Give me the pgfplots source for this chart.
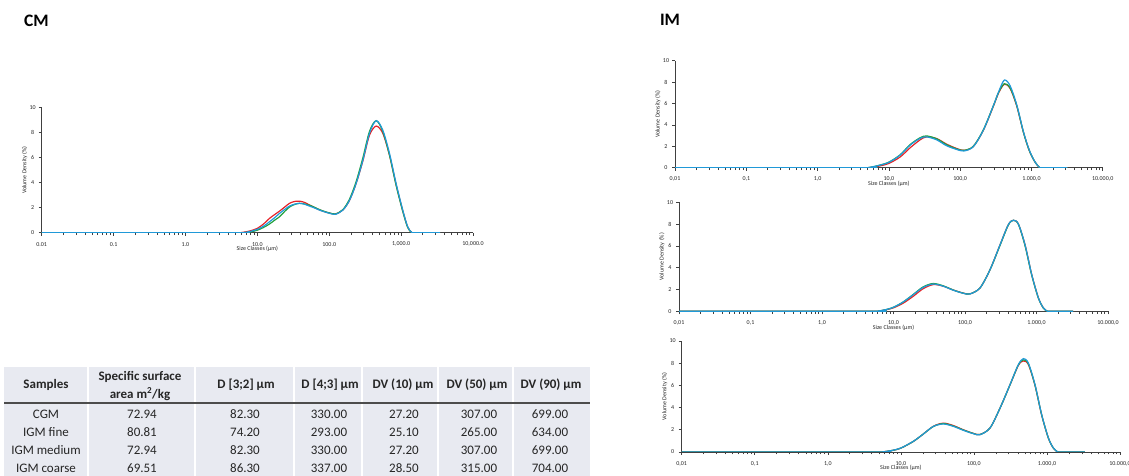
\documentclass[border=0pt]{standalone}
\usepackage{fontspec}
\setmainfont{Carlito}
\usepackage{pgfplots}
\usepackage{pgfplotstable}
\pgfplotsset{compat=1.18}

\definecolor{cred}{HTML}{E52329}
\definecolor{cgreen}{HTML}{22A03C}
\definecolor{cblue}{HTML}{2099D8}
\definecolor{tabfill}{HTML}{E8EAF1}
\definecolor{axgray}{HTML}{404040}

% particle size distributions: size (um), red, green, blue
\pgfplotstableread{
x r g b
0.01 0 0 0
5.0 0 0 0
6.3 0.03 0 0
8 0.15 0.06 0.1
10 0.35 0.2 0.27
12.2 0.7 0.42 0.52
14.8 1.15 0.7 0.88
17.4 1.45 1.0 1.2
20.4 1.73 1.28 1.55
24 2.05 1.7 1.86
28 2.35 2.05 2.13
33 2.5 2.26 2.28
38.7 2.52 2.35 2.35
45 2.43 2.3 2.28
53 2.22 2.2 2.13
63 2.0 2.02 1.97
73 1.83 1.85 1.81
86 1.68 1.7 1.67
101 1.57 1.58 1.55
122 1.5 1.5 1.47
155 1.82 1.85 1.81
192 2.6 2.7 2.6
237 3.95 4.1 3.95
294 5.75 6.0 5.8
363 7.8 8.1 7.95
450 8.53 8.96 8.96
556 7.95 8.1 8.2
689 6.2 6.2 6.35
851 3.85 3.8 3.95
1054 1.75 1.7 1.81
1234 0.45 0.42 0.48
1400 0.02 0.02 0.03
1550 0 0 0
3500 0 0 0
}\cmdata

\pgfplotstableread{
x r g b
0.01 0 0 0
4.5 0 0 0
5.4 0.02 0.03 0.03
7.3 0.15 0.22 0.22
10 0.4 0.52 0.5
14.4 1.0 1.2 1.18
19.8 1.85 2.15 2.1
27.4 2.6 2.8 2.74
33.9 2.88 2.97 2.88
46.9 2.72 2.7 2.6
64.6 2.2 2.15 2.05
89 1.8 1.76 1.71
113 1.62 1.62 1.56
153 1.98 2.0 1.96
212 3.5 3.55 3.52
295 5.8 5.85 5.86
347 7.0 7.05 7.1
417 7.8 7.85 8.19
503 7.4 7.45 7.65
623 5.75 5.8 5.86
773 3.3 3.3 3.36
933 1.6 1.6 1.65
1118 0.55 0.55 0.56
1300 0.02 0.02 0.02
1450 0 0 0
3200 0 0 0
}\imadata

\pgfplotstableread{
x r g b
0.01 0 0 0
5.2 0 0 0
6.2 0.02 0.02 0.03
8 0.15 0.17 0.17
10 0.32 0.37 0.37
13.7 0.75 0.86 0.86
18.9 1.38 1.55 1.53
26.1 2.08 2.25 2.2
36 2.45 2.55 2.5
49.8 2.3 2.33 2.3
68.7 1.95 1.95 1.93
94.8 1.67 1.66 1.65
117.5 1.6 1.6 1.59
162 2.14 2.14 2.14
224 3.82 3.82 3.82
309 6.1 6.05 6.1
404 7.95 7.92 7.95
475 8.35 8.35 8.35
558 8.0 7.98 8.01
691 6.1 6.02 6.1
858 3.36 3.3 3.36
1064 1.22 1.2 1.22
1250 0.3 0.28 0.3
1420 0.01 0.01 0.01
1550 0 0 0
3240 0 0 0
}\imbdata

\pgfplotstableread{
x r g b
0.01 0 0 0
4.8 0 0 0
5.8 0.02 0.02 0.02
7.8 0.15 0.15 0.16
10 0.35 0.35 0.36
14.8 0.95 0.95 0.96
20.3 1.62 1.62 1.62
27.9 2.32 2.3 2.31
38.2 2.6 2.56 2.52
52.4 2.38 2.34 2.31
71.8 2.0 1.98 1.95
98.3 1.68 1.67 1.65
121 1.58 1.57 1.56
166 2.16 2.16 2.16
228 3.96 3.96 3.96
312 6.05 6.05 6.07
406 7.8 7.85 7.87
475 8.2 8.3 8.41
556 7.88 7.95 8.02
686 6.0 6.02 6.07
847 3.32 3.34 3.36
1047 1.24 1.25 1.26
1225 0.35 0.35 0.36
1400 0.01 0.01 0.01
1550 0 0 0
3300 0 0 0
}\imcdata

\pgfplotsset{
  every axis/.append style={
    scale only axis,
    xmin=0.01, xmax=10000, ymin=0, ymax=10,
    axis lines=left, axis line style={-, axgray, line width=0.6pt},
    xtick={0.01,0.1,1,10,100,1000,10000},
    minor xtick={0.02,0.03,0.04,0.05,0.06,0.07,0.08,0.09,
      0.2,0.3,0.4,0.5,0.6,0.7,0.8,0.9,2,3,4,5,6,7,8,9,
      20,30,40,50,60,70,80,90,200,300,400,500,600,700,800,900,
      2000,3000,4000,5000,6000,7000,8000,9000},
    ytick={0,2,4,6,8,10}, yticklabels={0,2,4,6,8,10},
    tick align=outside, major tick length=3pt, minor tick length=2.5pt,
    tick style={axgray, line width=0.6pt},
    tick label style={font=\fontsize{6}{7}\selectfont, text=black!85},
    xticklabel style={anchor=center, yshift=-8.5pt},
    yticklabel style={anchor=center, xshift=-6pt},
    label style={font=\fontsize{6}{7}\selectfont, text=black!85},
    xlabel={Size Classes (µm)}, ylabel={Volume Density (\%)},
    xlabel style={at={(axis description cs:0.5,0)}, anchor=center, yshift=-16pt},
    ylabel style={at={(axis description cs:0,0.5)}, anchor=center, yshift=17pt},
    cycle list={{cred, line width=1.2pt},{cgreen, line width=1.2pt},{cblue, line width=1.2pt}},
  },
}

\begin{document}
\begin{tikzpicture}
\useasboundingbox (0pt,0pt) rectangle (1129pt,476pt);

% titles
\node[font=\fontsize{17.5}{19}\selectfont\bfseries] at (36.5pt,455.5pt) {CM};
\node[font=\fontsize{17.5}{19}\selectfont\bfseries] at (670pt,456pt) {IM};

% CM panel
\begin{axis}[xmode=log, anchor=south west, at={(41.7pt,243.3pt)}, width=431.3pt, height=125pt,
  xticklabels={0.01,0.1,1.0,10.0,100.0,{1,000.0},{10,000.0}}]
\addplot+[smooth, no markers] table[x=x, y=r] {\cmdata};
\addplot+[smooth, no markers] table[x=x, y=g] {\cmdata};
\addplot+[smooth, no markers] table[x=x, y=b] {\cmdata};
\end{axis}

% IM panels
\begin{axis}[xmode=log, anchor=south west, at={(675pt,308.3pt)}, width=427.7pt, height=107pt,
  xticklabels={{0,01},{0,1},{1,0},{10,0},{100,0},{1.000,0},{10.000,0}}]
\addplot+[smooth, no markers] table[x=x, y=r] {\imadata};
\addplot+[smooth, no markers] table[x=x, y=g] {\imadata};
\addplot+[smooth, no markers] table[x=x, y=b] {\imadata};
\end{axis}

\begin{axis}[xmode=log, anchor=south west, at={(679pt,164.7pt)}, width=429pt, height=109pt,
  xticklabels={{0,01},{0,1},{1,0},{10,0},{100,0},{1.000,0},{10.000,0}}]
\addplot+[smooth, no markers] table[x=x, y=r] {\imbdata};
\addplot+[smooth, no markers] table[x=x, y=g] {\imbdata};
\addplot+[smooth, no markers] table[x=x, y=b] {\imbdata};
\end{axis}

\begin{axis}[xmode=log, anchor=south west, at={(681.7pt,24pt)}, width=438.3pt, height=111pt,
  xticklabels={{0,01},{0,1},{1,0},{10,0},{100,0},{1.000,0},{10.000,0}}]
\addplot+[smooth, no markers] table[x=x, y=r] {\imcdata};
\addplot+[smooth, no markers] table[x=x, y=g] {\imcdata};
\addplot+[smooth, no markers] table[x=x, y=b] {\imcdata};
\end{axis}

% table
\begin{scope}[x=1pt, y=1pt]
\fill[tabfill] (4,0) rectangle (590,109);
\foreach \xs in {88,195,294,362,438,513}
  \draw[white, line width=1.5pt] (\xs,0) -- (\xs,109);
\draw[black!70, line width=1.8pt] (4,73) -- (590,73);
\begin{scope}[every node/.style={font=\fontsize{13}{14}\selectfont\bfseries, text=black!85}]
\node at (46,91) {Samples};
\node at (140,99) {Specific surface};
\node at (140,82) {area m\textsuperscript{2}/kg};
\node at (246,91) {D [3;2] µm};
\node at (330,91) {D [4;3] µm};
\node at (403,91) {DV (10) µm};
\node at (477,91) {DV (50) µm};
\node at (551,91) {DV (90) µm};
\end{scope}
\begin{scope}[every node/.style={font=\fontsize{13}{14}\selectfont, text=black!85}]
\foreach \yy/\name/\a/\b/\c/\d/\e/\f in {
  62/CGM/72.94/82.30/330.00/27.20/307.00/699.00,
  44/IGM fine/80.81/74.20/293.00/25.10/265.00/634.00,
  26/IGM medium/72.94/82.30/330.00/27.20/307.00/699.00,
  8/IGM coarse/69.51/86.30/337.00/28.50/315.00/704.00}{
  \node at (46,\yy) {\name};
  \node at (142,\yy) {\a};
  \node at (245,\yy) {\b};
  \node at (329,\yy) {\c};
  \node at (404,\yy) {\d};
  \node at (479,\yy) {\e};
  \node at (550,\yy) {\f};
}
\end{scope}
\end{scope}
\end{tikzpicture}
\end{document}
